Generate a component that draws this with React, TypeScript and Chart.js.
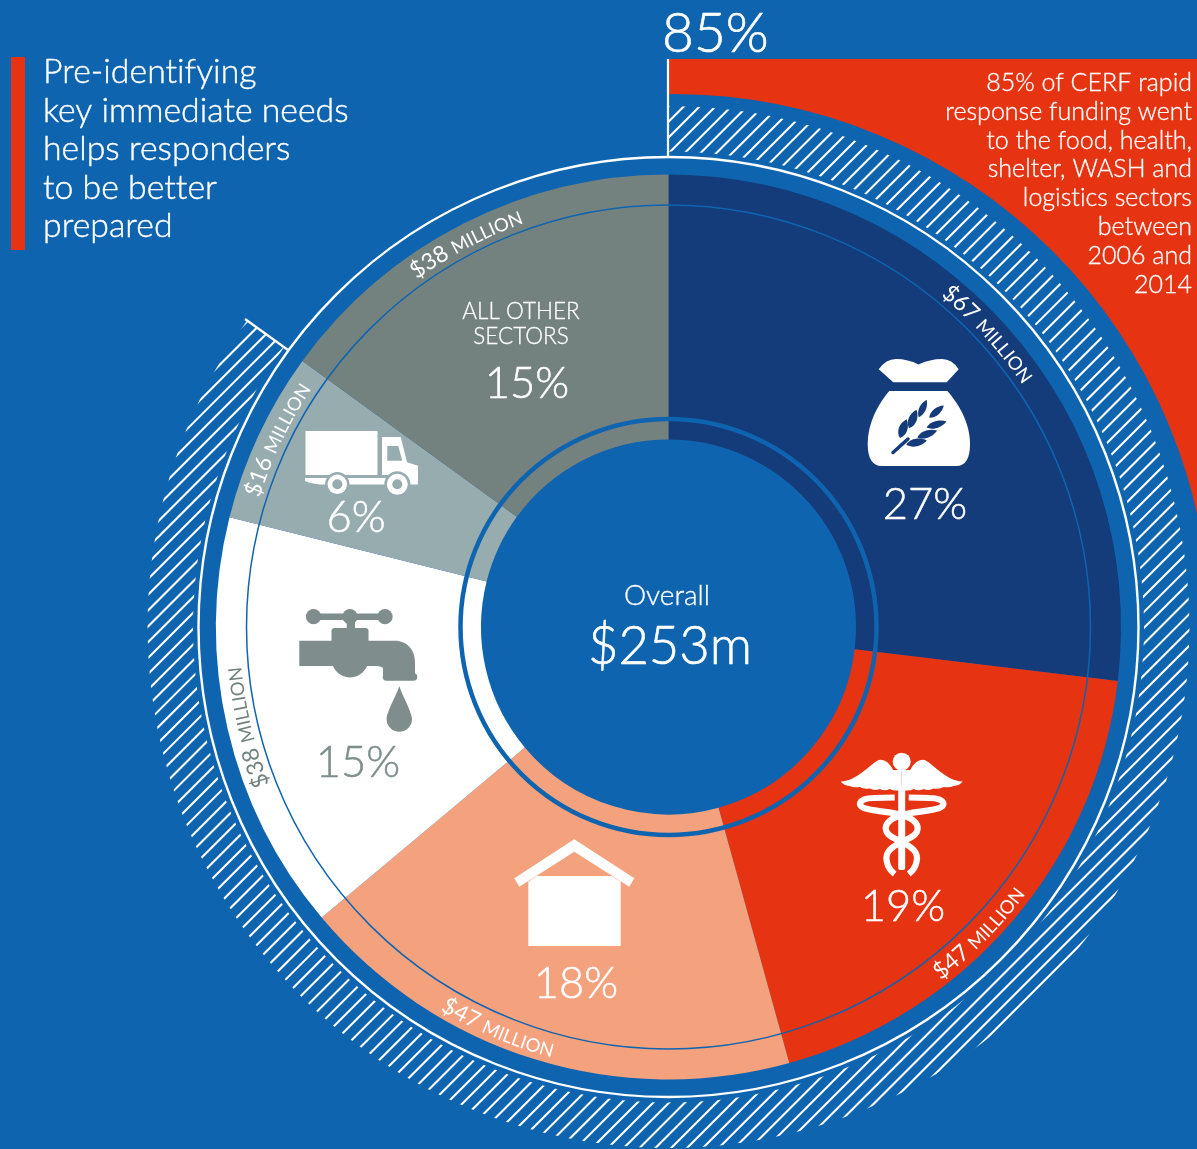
import React, { useEffect, useRef } from "react";
import { Chart, registerables } from "chart.js";

Chart.register(...registerables);

const sectors = ["Food", "Health", "Shelter", "WASH", "Logistics", "All other sectors"];
const shares = [26.9, 18.8, 18.2, 15, 6.1, 15];
const percents = [27, 19, 18, 15, 6, 15];
const amounts = ["$67", "$47", "$47", "$38", "$16", "$38"];
const sectorColors = ["#143B7A", "#E63312", "#F4A17E", "#FFFFFF", "#97ACAF", "#74827F"];
const percentColors = ["#FFFFFF", "#FFFFFF", "#FFFFFF", "#7F8E8C", "#FFFFFF", "#FFFFFF"];
const amountColors = ["#FFFFFF", "#FFFFFF", "#FFFFFF", "#74827F", "#FFFFFF", "#FFFFFF"];
const noteLines = ["Pre-identifying", "key immediate needs", "helps responders", "to be better", "prepared"];
const redLines = ["85% of CERF rapid", "response funding went", "to the food, health,", "shelter, WASH and", "logistics sectors", "between", "2006 and", "2014"];

const BG = "#0F64AF";
const FONT = "Lato, 'Noto Sans', sans-serif";
const CX = 668.5;
const CY = 627;

const f = (size: number, weight = 300) => `${weight} ${size}px ${FONT}`;

// light face thickened a little, to sit between Lato Light and Regular
function txt(ctx: any, s: string, x: number, y: number, size: number, color: string) {
  ctx.font = f(size);
  ctx.fillStyle = color;
  ctx.strokeStyle = color;
  ctx.lineWidth = Math.max(0.25, size * 0.012);
  ctx.lineJoin = "round";
  ctx.fillText(s, x, y);
  ctx.strokeText(s, x, y);
}

function curved(ctx: any, segs: { t: string; s: number }[], midDeg: number, r: number, topOut: boolean, color: string) {
  const chars: { c: string; s: number; w: number }[] = [];
  let total = 0;
  for (const seg of segs) {
    ctx.font = f(seg.s, 400);
    for (const c of seg.t) {
      const w = ctx.measureText(c).width;
      chars.push({ c, s: seg.s, w });
      total += w;
    }
  }
  const dir = topOut ? 1 : -1;
  let a = (midDeg * Math.PI) / 180 - (dir * total) / 2 / r;
  ctx.fillStyle = color;
  ctx.textAlign = "center";
  ctx.textBaseline = "alphabetic";
  for (const ch of chars) {
    const m = a + (dir * ch.w) / 2 / r;
    ctx.save();
    ctx.translate(CX + r * Math.sin(m), CY - r * Math.cos(m));
    ctx.rotate(topOut ? m : m + Math.PI);
    ctx.font = f(ch.s, 400);
    ctx.fillText(ch.c, 0, 0);
    ctx.restore();
    a += (dir * ch.w) / r;
  }
}

function poly(ctx: any, pts: number[][]) {
  ctx.beginPath();
  pts.forEach((p, i) => (i ? ctx.lineTo(p[0], p[1]) : ctx.moveTo(p[0], p[1])));
  ctx.closePath();
  ctx.fill();
}

function seed(ctx: any, x: number, y: number, len: number, wid: number, rot: number) {
  ctx.save();
  ctx.translate(x, y);
  ctx.rotate(rot);
  ctx.beginPath();
  ctx.moveTo(-len, 0);
  ctx.bezierCurveTo(-len * 0.5, -wid * 1.3, len * 0.4, -wid * 1.2, len, 0);
  ctx.bezierCurveTo(len * 0.4, wid * 1.2, -len * 0.5, wid * 1.3, -len, 0);
  ctx.fill();
  ctx.restore();
}

function sack(ctx: any) {
  ctx.fillStyle = "#FFFFFF";
  ctx.beginPath();
  ctx.moveTo(878.7, 369.3);
  ctx.quadraticCurveTo(886, 359, 896, 359);
  ctx.quadraticCurveTo(908, 359, 918.5, 364.5);
  ctx.quadraticCurveTo(930, 359, 942, 359);
  ctx.quadraticCurveTo(952, 359, 958.7, 369.3);
  ctx.lineTo(946.7, 382.3);
  ctx.lineTo(893.3, 382.3);
  ctx.closePath();
  ctx.fill();
  ctx.beginPath();
  ctx.moveTo(889.3, 391);
  ctx.lineTo(947.3, 391);
  ctx.bezierCurveTo(958, 403, 970, 422, 970, 444);
  ctx.bezierCurveTo(970, 458, 966, 466, 956, 466);
  ctx.lineTo(882, 466);
  ctx.bezierCurveTo(872, 466, 867.7, 458, 867.7, 444);
  ctx.bezierCurveTo(867.7, 422, 879, 403, 889.3, 391);
  ctx.closePath();
  ctx.fill();
  ctx.fillStyle = "#143B7A";
  ctx.strokeStyle = "#143B7A";
  ctx.lineCap = "round";
  ctx.lineWidth = 3.5;
  ctx.beginPath();
  ctx.moveTo(893, 452.5);
  ctx.lineTo(908, 439);
  ctx.stroke();
  const kernels = [
    [903.2, 428.6, 10, 4.6, -1.23],
    [912.8, 419, 10, 4.4, -1.19],
    [922.7, 408.5, 9.5, 3.6, -1.14],
    [916.5, 442.5, 10.5, 4, -0.2],
    [927.2, 434, 10.5, 4, -0.33],
    [936.5, 424.5, 10.5, 3.6, -0.3],
    [936.5, 411.5, 9.5, 3.6, -0.7],
  ];
  kernels.forEach((k) => seed(ctx, k[0], k[1], k[2], k[3], k[4]));
}

function truck(ctx: any) {
  ctx.fillStyle = "#FFFFFF";
  ctx.fillRect(305.5, 431, 72, 44);
  poly(ctx, [[382, 437], [400.7, 437], [407, 462.3], [418, 465.7], [418, 484.5], [404, 484.5], [404, 475], [382, 475]]);
  poly(ctx, [[305, 478], [382, 478], [390, 478], [390, 484.5], [347, 484.5], [330, 484.5], [320, 484.5], [310, 483], [305, 481]]);
  ctx.fillStyle = "#97ACAF";
  poly(ctx, [[387.3, 446], [398.3, 446], [402.3, 460.7], [387.3, 460.7]]);
  [[337.3, 10.2], [397.3, 11]].forEach((w) => {
    ctx.fillStyle = "#97ACAF";
    ctx.beginPath();
    ctx.arc(w[0], 484.3, w[1] + 2, 0, 7);
    ctx.fill();
    ctx.fillStyle = "#FFFFFF";
    ctx.beginPath();
    ctx.arc(w[0], 484.3, w[1] - 0.5, 0, 7);
    ctx.fill();
    ctx.fillStyle = "#97ACAF";
    ctx.beginPath();
    ctx.arc(w[0], 484.3, 5, 0, 7);
    ctx.fill();
  });
}

function faucet(ctx: any) {
  const c = "#7F8E8C";
  ctx.fillStyle = c;
  ctx.fillRect(313, 613.5, 72, 6.5);
  [313.5, 350, 385].forEach((x) => {
    ctx.beginPath();
    ctx.arc(x, 616.7, 7.6, 0, 7);
    ctx.fill();
  });
  ctx.fillRect(346.7, 618, 8.3, 12);
  ctx.beginPath();
  ctx.roundRect(331.5, 628, 37, 16, 3);
  ctx.fill();
  ctx.beginPath();
  ctx.moveTo(299.3, 640.7);
  ctx.lineTo(395, 640.7);
  ctx.bezierCurveTo(407, 640.7, 415, 650, 415, 662);
  ctx.lineTo(415, 675);
  ctx.lineTo(383, 675);
  ctx.lineTo(383, 668);
  ctx.quadraticCurveTo(381, 666, 376, 666);
  ctx.lineTo(299.3, 666);
  ctx.closePath();
  ctx.fill();
  ctx.beginPath();
  ctx.arc(350, 659, 18.5, 0, 7);
  ctx.fill();
  ctx.beginPath();
  ctx.roundRect(382.7, 673.3, 34.6, 7.4, 3.7);
  ctx.fill();
  ctx.beginPath();
  ctx.moveTo(399.3, 686);
  ctx.bezierCurveTo(402, 695, 412, 712, 412, 719);
  ctx.arc(399.3, 719, 12.7, 0, Math.PI);
  ctx.bezierCurveTo(386.6, 712, 396.6, 695, 399.3, 686);
  ctx.fill();
}

function house(ctx: any) {
  ctx.fillStyle = "#FFFFFF";
  poly(ctx, [[574.3, 839.3], [634.3, 878.3], [629.3, 886.7], [574.3, 851.7], [519.3, 886.7], [514.3, 878.3]]);
  poly(ctx, [[536.7, 876], [611.7, 876], [620.7, 881.7], [620.7, 946], [528.3, 946], [528.3, 881.7]]);
}

function caduceus(ctx: any) {
  const cx = 901.7;
  ctx.fillStyle = "#FFFFFF";
  ctx.strokeStyle = "#FFFFFF";
  ctx.beginPath();
  ctx.arc(cx, 761.7, 9, 0, 7);
  ctx.fill();
  ctx.beginPath();
  ctx.roundRect(cx - 3.5, 785, 7, 85, 2);
  ctx.fill();
  [-1, 1].forEach((d) => {
    const X = (v: number) => cx + d * v;
    ctx.beginPath();
    ctx.moveTo(X(61), 781.5);
    ctx.bezierCurveTo(X(44), 781, X(32), 764, X(23), 760);
    ctx.quadraticCurveTo(X(15), 758, X(8.5), 770);
    ctx.lineTo(X(0), 770);
    ctx.lineTo(X(0), 790);
    ctx.quadraticCurveTo(X(8), 791.5, X(12), 789);
    ctx.quadraticCurveTo(X(17), 791.5, X(22), 789);
    ctx.quadraticCurveTo(X(27), 791, X(32), 788.5);
    ctx.quadraticCurveTo(X(38), 789.5, X(42), 787);
    ctx.quadraticCurveTo(X(48), 788, X(52), 786);
    ctx.quadraticCurveTo(X(58), 785.5, X(61), 781.5);
    ctx.closePath();
    ctx.fill();
    ctx.lineWidth = 6.2;
    ctx.lineCap = "butt";
    ctx.beginPath();
    ctx.moveTo(X(7), 797.5);
    ctx.lineTo(X(28), 798);
    ctx.bezierCurveTo(X(44), 798, X(46), 807, X(34), 809);
    ctx.bezierCurveTo(X(22), 812, X(8), 812, X(0), 815);
    ctx.bezierCurveTo(X(-14), 819, X(-18), 826, X(-15), 832);
    ctx.bezierCurveTo(X(-12), 838, X(-4), 839, X(0), 842);
    ctx.bezierCurveTo(X(10), 847, X(17), 852, X(15), 861);
    ctx.bezierCurveTo(X(14), 867, X(11), 871, X(7), 874);
    ctx.stroke();
  });
}

function backdrop(ctx: any) {
  ctx.fillStyle = BG;
  ctx.fillRect(0, 0, 1197, 1149);

  // red panel behind the ring
  ctx.fillStyle = "#E63312";
  ctx.fillRect(669, 59, 528, 470);
  ctx.fillStyle = BG;
  ctx.beginPath();
  ctx.arc(673, 631, 537, 0, Math.PI * 2);
  ctx.fill();

  // hatch band: the 85% share of the circle
  const start = -Math.PI / 2;
  const end = start + (306 * Math.PI) / 180;
  ctx.save();
  ctx.beginPath();
  ctx.arc(CX, CY, 521, start, end);
  ctx.arc(CX, CY, 475.5, end, start, true);
  ctx.closePath();
  ctx.clip();
  ctx.strokeStyle = "#FFFFFF";
  ctx.lineWidth = 2.1;
  for (let k = 1930 - 15.83 * 120; k < 2600; k += 15.83) {
    ctx.beginPath();
    ctx.moveTo(k, 0);
    ctx.lineTo(k - 1300, 1300);
    ctx.stroke();
  }
  ctx.restore();

  // white outer ring and end ticks
  ctx.strokeStyle = "#FFFFFF";
  ctx.lineWidth = 2.4;
  ctx.beginPath();
  ctx.arc(CX, CY, 470, 0, Math.PI * 2);
  ctx.stroke();
  ctx.lineWidth = 2.2;
  ctx.beginPath();
  ctx.moveTo(668, 59);
  ctx.lineTo(668, 157);
  ctx.stroke();
  ctx.beginPath();
  ctx.moveTo(288, 350);
  ctx.lineTo(245, 319);
  ctx.stroke();
}

const overlay = {
  id: "overlay",
  beforeDatasetsDraw(chart: any) {
    backdrop(chart.ctx);
  },
  afterDatasetsDraw(chart: any) {
    const ctx = chart.ctx;
    ctx.save();
    ctx.letterSpacing = "0.01px"; // keeps Lato's tt ligature off
    ctx.strokeStyle = BG;
    ctx.lineWidth = 1.5;
    ctx.beginPath();
    ctx.arc(CX, CY, 422, 0, Math.PI * 2);
    ctx.stroke();
    ctx.lineWidth = 4.5;
    ctx.beginPath();
    ctx.arc(CX, CY, 208, 0, Math.PI * 2);
    ctx.stroke();

    // note
    ctx.fillStyle = "#E63312";
    ctx.fillRect(11, 57, 14, 193);
    ctx.textAlign = "left";
    ctx.textBaseline = "alphabetic";
    noteLines.forEach((l, i) => txt(ctx, l, 43, 83 + i * 38.5, 33.8, "#FFFFFF"));

    txt(ctx, "85%", 662, 52, 55, "#FFFFFF");

    ctx.textAlign = "right";
    redLines.forEach((l, i) => txt(ctx, l, 1192, 91 + i * 28.8, 25, "#FFFFFF"));

    // centre
    ctx.textAlign = "center";
    txt(ctx, "Overall", 667, 605, 28, "#FFFFFF");
    txt(ctx, "$253m", 670, 664, 52.5, "#FFFFFF");

    // sector labels
    const pos = [[925, 519], [903, 921], [576, 998], [358, 777], [356, 532], [527, 398]];
    percents.forEach((p, i) => txt(ctx, `${p}%`, pos[i][0], pos[i][1], 43.5, percentColors[i]));
    txt(ctx, "ALL OTHER", 521, 319, 22.5, "#FFFFFF");
    txt(ctx, "SECTORS", 521, 344, 22.5, "#FFFFFF");

    // curved amounts
    const mids = [47.5, 134.6, 203, 256.6, 295.6, 332.2];
    const topOut = [true, false, false, true, true, true];
    amounts.forEach((a, i) => {
      curved(ctx, [{ t: `${a} `, s: 23 }, { t: "MILLION", s: 18.5 }], mids[i], topOut[i] ? 429 : 446, topOut[i], amountColors[i]);
    });

    sack(ctx);
    caduceus(ctx);
    house(ctx);
    faucet(ctx);
    truck(ctx);
    ctx.restore();
  },
};

export default function App() {
  const ref = useRef<HTMLCanvasElement | null>(null);
  useEffect(() => {
    document.body.style.margin = "0";
    document.body.style.background = BG;
    const chart = new Chart(ref.current as any, {
      type: "doughnut",
      data: {
        labels: sectors,
        datasets: [{ data: shares, backgroundColor: sectorColors, borderWidth: 0 }],
      },
      options: {
        responsive: false,
        animation: false,
        cutout: 187.5,
        layout: { padding: { left: 216, right: 76, top: 174.5, bottom: 69.5 } },
        plugins: { legend: { display: false }, tooltip: { enabled: false } },
      },
      plugins: [overlay],
    } as any);
    return () => chart.destroy();
  }, []);
  return <canvas ref={ref} width={1197} height={1149} style={{ display: "block" }} />;
}
